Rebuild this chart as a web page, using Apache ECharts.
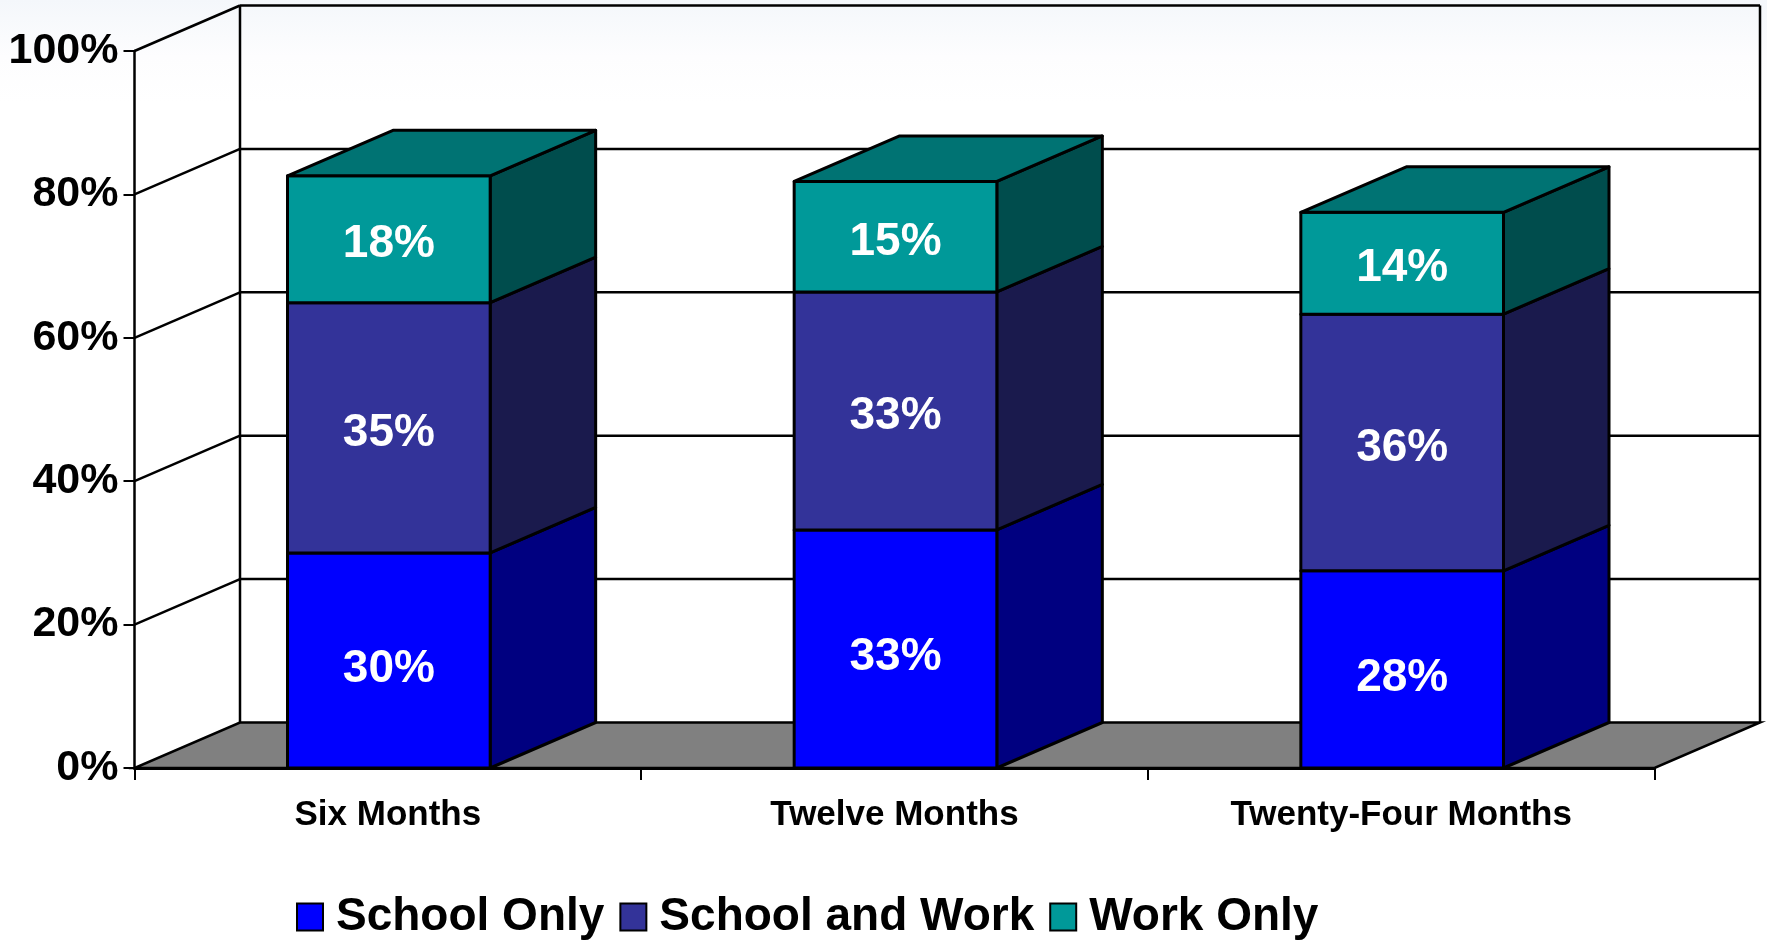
<!DOCTYPE html>
<html>
<head>
<meta charset="utf-8">
<style>html,body{margin:0;padding:0;background:#fff}#c{width:1767px;height:941px}</style>
<script src="https://cdn.jsdelivr.net/npm/echarts@6/dist/echarts.min.js"></script>
</head>
<body>
<div id="c"></div>
<script>
const categories = ['Six Months', 'Twelve Months', 'Twenty-Four Months'];
const schoolOnly = [30, 33.2, 27.5];
const schoolAndWork = [34.9, 33.2, 35.8];
const workOnly = [17.7, 15.4, 14.2];
const schoolOnlyLabels = ['30%', '33%', '28%'];
const schoolAndWorkLabels = ['35%', '33%', '36%'];
const workOnlyLabels = ['18%', '15%', '14%'];
const yTicks = [0, 20, 40, 60, 80, 100];

const DX = 105.5, DY = 45.5, BAR_RATIO = 0.4, BAR_SHIFT = 1;
const FONT = '"Liberation Sans", Arial, sans-serif';
const LINE = { stroke: '#000', lineWidth: 2.5 };
const BAR_LINE = { stroke: '#000', lineWidth: 3, lineJoin: 'round' };

function stackData(values, below, labels) {
  return values.map((v, i) => [i, below[i], below[i] + v, labels[i]]);
}
const base0 = [0, 0, 0];
const base1 = schoolOnly.slice();
const base2 = schoolOnly.map((v, i) => v + schoolAndWork[i]);

function barRenderer(front, side, top, showTop, labelShift) {
  return function (params, api) {
    const c = api.value(0);
    const p0 = api.coord([c, api.value(1)]);
    const p1 = api.coord([c, api.value(2)]);
    const w = api.size([1, 0])[0] * BAR_RATIO;
    const l = p0[0] - w / 2 + BAR_SHIFT, r = p0[0] + w / 2 + BAR_SHIFT, yb = p0[1], yt = p1[1];
    const children = [
      { type: 'polygon', shape: { points: [[r, yb], [r + DX, yb - DY], [r + DX, yt - DY], [r, yt]] },
        style: { fill: side, ...BAR_LINE } },
      { type: 'rect', shape: { x: l, y: yt, width: w, height: yb - yt },
        style: { fill: front, ...BAR_LINE } }
    ];
    if (showTop) {
      children.push({ type: 'polygon', shape: { points: [[l, yt], [l + DX, yt - DY], [r + DX, yt - DY], [r, yt]] },
        style: { fill: top, ...BAR_LINE } });
    }
    children.push({ type: 'text', x: (l + r) / 2, y: (yb + yt) / 2 + labelShift,
      style: { text: api.value(3), fill: '#fff', font: 'bold 46px ' + FONT, align: 'center', verticalAlign: 'middle' } });
    return { type: 'group', children };
  };
}

function wallRenderer(params, api) {
  const cs = params.coordSys;
  const v = api.value(1);
  const y = api.coord([0, v])[1];
  const x0 = cs.x, x1 = cs.x + cs.width;
  const children = [];
  if (v === 0) {
    children.push({ type: 'polygon',
      shape: { points: [[x0, y], [x1, y], [x1 + DX, y - DY], [x0 + DX, y - DY]] },
      style: { fill: '#808080', ...LINE } });
    const topY = cs.y - DY;
    children.push({ type: 'line', shape: { x1: x0 + DX, y1: y - DY, x2: x0 + DX, y2: topY }, style: LINE });
    children.push({ type: 'line', shape: { x1: x1 + DX, y1: y - DY, x2: x1 + DX, y2: topY }, style: LINE });
  } else {
    children.push({ type: 'line', shape: { x1: x0, y1: y, x2: x0 + DX, y2: y - DY }, style: LINE });
    children.push({ type: 'line', shape: { x1: x0 + DX, y1: y - DY, x2: x1 + DX, y2: y - DY }, style: LINE });
  }
  return { type: 'group', children };
}

const custom = { type: 'custom', coordinateSystem: 'cartesian2d', clip: false, silent: true, animation: false };

const chart = echarts.init(document.getElementById('c'), null, { renderer: 'canvas' });
chart.setOption({
  animation: false,
  backgroundColor: {
    type: 'linear', x: 0, y: 0, x2: 0, y2: 1,
    colorStops: [{ offset: 0, color: '#f4f7fb' }, { offset: 0.06, color: '#fdfdfe' }, { offset: 0.11, color: '#ffffff' }]
  },
  grid: { left: 134.5, right: 112.5, top: 51, bottom: 173, containLabel: false },
  xAxis: {
    type: 'category', data: categories, z: 3,
    axisLine: { lineStyle: { color: '#000', width: 3 } },
    axisTick: { show: true, length: 12, lineStyle: { color: '#000', width: 2 } },
    axisLabel: { color: '#000', fontFamily: FONT, fontWeight: 'bold', fontSize: 35, margin: 30, interval: 0 }
  },
  yAxis: {
    type: 'value', min: 0, max: 100, interval: 20, z: 3,
    axisLine: { show: true, lineStyle: { color: '#000', width: 2.5 } },
    axisTick: { show: true, length: 11, lineStyle: { color: '#000', width: 2 } },
    axisLabel: { color: '#000', fontFamily: FONT, fontWeight: 'bold', fontSize: 43, margin: 16, padding: [10, 0, 0, 0], formatter: '{value}%' },
    splitLine: { show: false }
  },
  legend: {
    left: 296, top: 894, padding: 0, itemWidth: 26, itemHeight: 27, itemGap: 15, icon: 'rect',
    data: ['School Only', 'School and Work', 'Work Only'],
    itemStyle: { borderColor: '#000', borderWidth: 2 },
    textStyle: { color: '#000', fontFamily: FONT, fontWeight: 'bold', fontSize: 46, padding: [0, 0, 0, 8] },
    selectedMode: false
  },
  series: [
    { ...custom, name: 'Walls', z: 1, renderItem: wallRenderer, encode: { x: 0, y: 1 },
      data: yTicks.map(v => [0, v]) },
    { ...custom, name: 'School Only', z: 4, itemStyle: { color: '#0000ff' },
      renderItem: barRenderer('#0000ff', '#000080', null, false, 8.5), encode: { x: 0, y: 2 },
      data: stackData(schoolOnly, base0, schoolOnlyLabels) },
    { ...custom, name: 'School and Work', z: 4, itemStyle: { color: '#333399' },
      renderItem: barRenderer('#333399', '#1a1a4d', null, false, 5.5), encode: { x: 0, y: 2 },
      data: stackData(schoolAndWork, base1, schoolAndWorkLabels) },
    { ...custom, name: 'Work Only', z: 4, itemStyle: { color: '#009999' },
      renderItem: barRenderer('#009999', '#004d4d', '#007373', true, 5.5), encode: { x: 0, y: 2 },
      data: stackData(workOnly, base2, workOnlyLabels) }
  ]
});
</script>
</body>
</html>
